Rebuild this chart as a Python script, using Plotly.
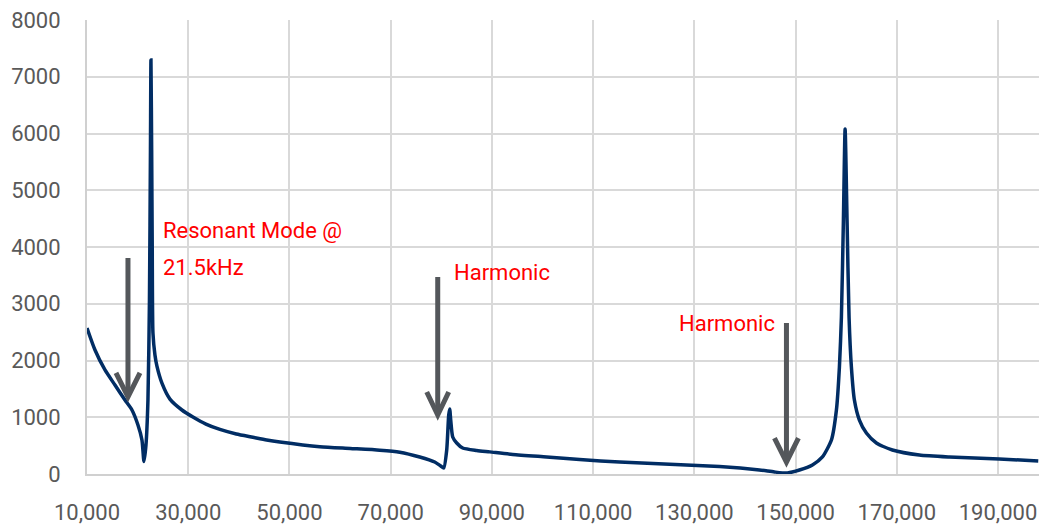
import plotly.graph_objects as go

# Frequency (Hz) and response values
freq = [10000, 11580, 13554, 15528, 17502, 18884, 20069, 20859, 21254, 21649,
        22043, 22340, 22537, 22636, 22775, 22893, 23030, 23425, 23820, 24807,
        26387, 28756, 30927, 33500, 36258, 39500, 42773, 45500, 48104, 56001,
        62000, 67846, 71795, 75744,
        78705, 79890, 80482, 81074, 81469, 81666, 81864, 82259, 83048, 84233,
        86997, 89564, 94105, 100818, 107333, 115230, 134973, 142870, 145831, 148398,
        150767, 153333, 155308, 157085, 158072, 158664, 159059, 159454, 159790, 160174,
        160569, 161034, 161626, 162613, 163995, 165970, 169128, 174459, 180382, 190253,
        197953]
value = [2573, 2185, 1833, 1568, 1304, 1128, 863, 599, 220, 511,
         1304, 3066, 5709, 7295, 5709, 3947, 2484, 2097, 1900, 1600,
         1320, 1128, 1004, 880, 785, 705, 648, 600, 564, 480,
         450, 420, 385, 300,
         211, 141, 106, 423, 1040, 1145, 951, 652, 546, 458,
         415, 390, 345, 300, 255, 210, 130, 70, 35, 18,
         70, 159, 300, 599, 1128, 1885, 2766, 4475, 6079, 4475,
         2766, 1885, 1304, 951, 722, 546, 423, 335, 300, 264,
         229]

x_ticks = [10000, 30000, 50000, 70000, 90000, 110000, 130000, 150000, 170000, 190000]
y_ticks = [0, 1000, 2000, 3000, 4000, 5000, 6000, 7000, 8000]

fig = go.Figure()
fig.add_trace(go.Scatter(x=freq, y=value, mode="lines",
                         line=dict(color="#012D64", width=3.5, shape="spline", smoothing=0.6),
                         hoverinfo="skip", showlegend=False, cliponaxis=True))

arrow_color = "#54575B"
arrows = [
    # (x, y_top, y_tip, x_left_arm, x_right_arm, y_arm)
    (18095, 3806, 1357, 15725, 20464, 1780),
    (79298, 3471, 1040, 77126, 81469, 1445),
    (148201, 2661, 211, 145831, 150570, 634),
]
for xa, yt, ytip, xl, xr, yarm in arrows:
    fig.add_shape(type="line", x0=xa, x1=xa, y0=yt, y1=ytip + 80,
                  line=dict(color=arrow_color, width=5), layer="above")
    fig.add_shape(type="path",
                  path=f"M {xl},{yarm} L {xa},{ytip} L {xr},{yarm}",
                  line=dict(color=arrow_color, width=5), layer="above")

txt_font = dict(family="Roboto", size=22, color="#FF0000")
fig.add_annotation(x=24610, y=4299, text="Resonant Mode @", showarrow=False,
                   xanchor="left", yanchor="middle", font=txt_font)
fig.add_annotation(x=24610, y=3647, text="21.5kHz", showarrow=False,
                   xanchor="left", yanchor="middle", font=txt_font)
fig.add_annotation(x=82062, y=3542, text="Harmonic", showarrow=False,
                   xanchor="left", yanchor="middle", font=txt_font)
fig.add_annotation(x=126484, y=2652, text="Harmonic", showarrow=False,
                   xanchor="left", yanchor="middle", font=txt_font)

tick_font = dict(family="Roboto", size=22, color="#595959")
fig.update_layout(
    width=1039, height=526,
    margin=dict(l=87, r=0, t=20, b=52, autoexpand=False),
    paper_bgcolor="white", plot_bgcolor="white",
    xaxis=dict(range=[10000, 198100], tickvals=x_ticks, tickformat=",",
               showgrid=True, gridcolor="#D9D9D9", gridwidth=2,
               showline=True, linecolor="#D0D0D0", linewidth=2,
               zeroline=False, ticks="", tickfont=tick_font, automargin=False,
               ticklabelstandoff=18, ticklabeloverflow="allow", fixedrange=True),
    yaxis=dict(range=[0, 8000], tickvals=y_ticks,
               showgrid=True, gridcolor="#D9D9D9", gridwidth=2,
               showline=True, linecolor="#D0D0D0", linewidth=2,
               zeroline=False, ticks="", tickfont=tick_font, automargin=False,
               ticklabelstandoff=20, ticklabeloverflow="allow", fixedrange=True),
)

fig.write_html("out.html", config={"displayModeBar": False, "staticPlot": True},
               post_script="document.body.style.margin='0';document.body.style.overflow='hidden';")
